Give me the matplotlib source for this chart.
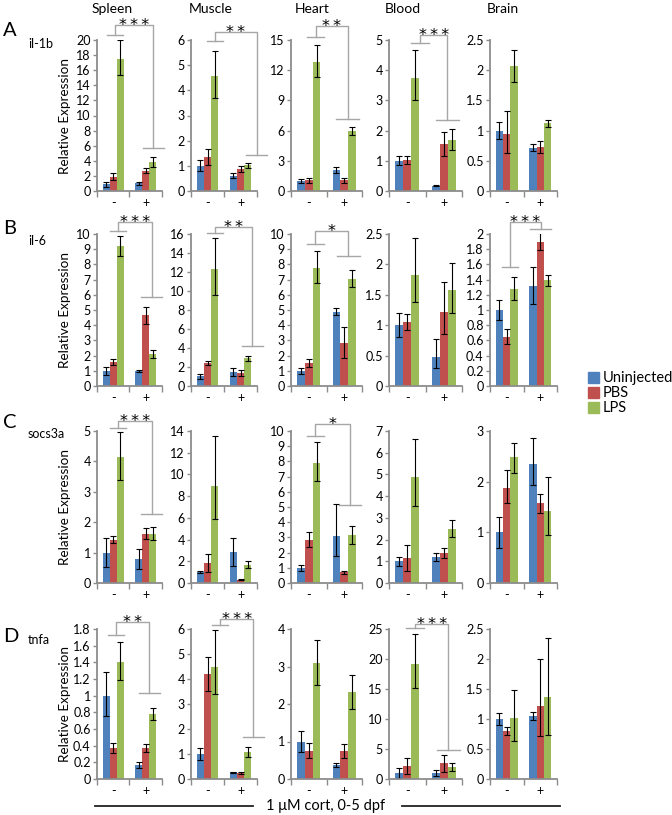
import numpy as np
import matplotlib
matplotlib.use('Agg')
import matplotlib.pyplot as plt
from matplotlib.patches import Rectangle
from matplotlib.lines import Line2D

plt.rcParams['font.family'] = ['Lato', 'DejaVu Sans']

tissues = ['Spleen', 'Muscle', 'Heart', 'Blood', 'Brain']
genes = ['il-1b', 'il-6', 'socs3a', 'tnfa']
letters = ['A', 'B', 'C', 'D']
treatments = ['Uninjected', 'PBS', 'LPS']
cort = ['-', '+']

# each row: [Uninj -, PBS -, LPS -, Uninj +, PBS +, LPS +] for one tissue
il1b_mean = [[0.9, 1.9, 17.5, 1.0, 2.7, 3.8],
             [1.0, 1.35, 4.55, 0.6, 0.88, 1.03],
             [1.0, 1.05, 12.8, 2.07, 1.05, 6.0],
             [1.0, 1.03, 3.75, 0.18, 1.55, 1.7],
             [1.0, 0.95, 2.07, 0.72, 0.73, 1.12]]
il1b_up = [[0.35, 0.45, 2.45, 0.2, 0.3, 0.75],
           [0.22, 0.32, 1.0, 0.1, 0.12, 0.1],
           [0.2, 0.25, 1.7, 0.3, 0.25, 0.4],
           [0.15, 0.12, 0.92, 0.03, 0.4, 0.35],
           [0.14, 0.37, 0.27, 0.05, 0.1, 0.06]]
il1b_dn = [[0.35, 0.4, 2.15, 0.2, 0.3, 0.6],
           [0.22, 0.3, 0.85, 0.1, 0.12, 0.1],
           [0.2, 0.25, 1.5, 0.3, 0.25, 0.4],
           [0.15, 0.12, 0.75, 0.03, 0.4, 0.35],
           [0.14, 0.32, 0.27, 0.05, 0.1, 0.06]]

il6_mean = [[1.0, 1.55, 9.2, 1.0, 4.65, 2.1],
            [1.0, 2.4, 12.3, 1.5, 1.4, 2.9],
            [1.0, 1.5, 7.75, 4.9, 2.85, 7.05],
            [1.0, 1.05, 1.83, 0.48, 1.22, 1.58],
            [1.0, 0.65, 1.28, 1.32, 1.9, 1.39]]
il6_up = [[0.25, 0.2, 0.65, 0.05, 0.55, 0.25],
          [0.3, 0.2, 3.3, 0.4, 0.3, 0.25],
          [0.2, 0.25, 1.1, 0.25, 1.0, 0.55],
          [0.2, 0.13, 0.6, 0.29, 0.49, 0.45],
          [0.13, 0.1, 0.15, 0.24, 0.11, 0.07]]
il6_dn = [[0.25, 0.2, 0.65, 0.05, 0.55, 0.25],
          [0.3, 0.2, 2.7, 0.4, 0.3, 0.25],
          [0.2, 0.25, 1.0, 0.25, 1.0, 0.55],
          [0.2, 0.13, 0.45, 0.18, 0.37, 0.38],
          [0.13, 0.1, 0.15, 0.24, 0.11, 0.07]]

socs3a_mean = [[1.0, 1.43, 4.13, 0.8, 1.62, 1.62],
               [1.0, 1.8, 8.9, 2.85, 0.3, 1.7],
               [1.0, 2.85, 7.9, 3.1, 0.7, 3.15],
               [1.0, 1.15, 4.9, 1.2, 1.38, 2.5],
               [1.0, 1.88, 2.48, 2.35, 1.57, 1.42]]
socs3a_up = [[0.48, 0.1, 0.85, 0.33, 0.18, 0.22],
             [0.1, 0.9, 4.6, 1.25, 0.05, 0.3],
             [0.2, 0.5, 1.35, 2.1, 0.1, 0.6],
             [0.2, 0.6, 1.75, 0.18, 0.22, 0.38],
             [0.3, 0.35, 0.28, 0.52, 0.18, 0.68]]
socs3a_dn = [[0.48, 0.1, 0.75, 0.33, 0.18, 0.22],
             [0.1, 0.8, 3.0, 1.3, 0.05, 0.3],
             [0.2, 0.5, 1.2, 1.3, 0.1, 0.6],
             [0.2, 0.6, 1.35, 0.18, 0.22, 0.38],
             [0.3, 0.3, 0.3, 0.42, 0.18, 0.48]]

tnfa_mean = [[1.0, 0.37, 1.41, 0.17, 0.37, 0.78],
             [1.0, 4.2, 4.5, 0.27, 0.25, 1.08],
             [1.0, 0.75, 3.1, 0.37, 0.75, 2.33],
             [1.0, 2.2, 19.2, 1.0, 2.6, 2.0],
             [1.0, 0.8, 1.01, 1.05, 1.22, 1.36]]
tnfa_up = [[0.29, 0.06, 0.24, 0.04, 0.05, 0.07],
           [0.25, 0.67, 1.45, 0.03, 0.03, 0.2],
           [0.27, 0.2, 0.62, 0.06, 0.18, 0.45],
           [0.9, 1.3, 5.0, 0.55, 1.4, 0.6],
           [0.1, 0.07, 0.47, 0.06, 0.78, 0.99]]
tnfa_dn = [[0.24, 0.06, 0.22, 0.04, 0.05, 0.07],
           [0.25, 0.67, 1.1, 0.03, 0.03, 0.2],
           [0.27, 0.2, 0.58, 0.06, 0.18, 0.45],
           [0.9, 1.3, 4.0, 0.55, 1.4, 0.6],
           [0.1, 0.07, 0.37, 0.06, 0.51, 0.63]]

il1b_ymax = [20, 6, 15, 5, 2.5]
il1b_step = [2, 1, 3, 1, 0.5]
il6_ymax = [10, 16, 10, 2.5, 2]
il6_step = [1, 2, 1, 0.5, 0.2]
socs3a_ymax = [5, 14, 10, 7, 3]
socs3a_step = [1, 2, 1, 1, 1]
tnfa_ymax = [1.8, 6, 4, 25, 2.5]
tnfa_step = [0.2, 1, 1, 5, 0.5]

# significance brackets: tissue -> (x left, x right, y left cap, y top, y right cap, stars)
il1b_sig = {0: (0.05, 1.23, 20.7, 22.0, 5.7, '***'), 1: (0.23, 1.49, 5.95, 6.3, 1.45, '**'),
            2: (0.2, 1.1, 15.3, 16.4, 7.2, '**'), 3: (0.35, 1.1, 4.9, 5.17, 2.35, '***')}
il6_sig = {0: (0.155, 1.18, 10.2, 10.8, 5.87, '***'), 1: (0.23, 1.36, 16.1, 16.7, 4.2, '**'),
           2: (0.18, 1.11, 9.35, 10.2, 8.55, '*'), 4: (0.1, 1.01, 1.56, 2.16, 2.07, '***')}
socs3a_sig = {0: (0.155, 1.18, 5.1, 5.33, 2.27, '***'), 2: (0.18, 1.16, 9.7, 10.45, 5.1, '*')}
tnfa_sig = {0: (0.085, 1.11, 1.73, 1.88, 1.03, '**'), 1: (0.38, 1.39, 6.15, 6.4, 1.68, '***'),
            3: (0.21, 1.13, 25.2, 25.8, 4.9, '***')}

rows = [(il1b_mean, il1b_up, il1b_dn, il1b_ymax, il1b_step, il1b_sig),
        (il6_mean, il6_up, il6_dn, il6_ymax, il6_step, il6_sig),
        (socs3a_mean, socs3a_up, socs3a_dn, socs3a_ymax, socs3a_step, socs3a_sig),
        (tnfa_mean, tnfa_up, tnfa_dn, tnfa_ymax, tnfa_step, tnfa_sig)]

colors = ['#4F81BD', '#C0504D', '#9BBB59']
grey = '#8C8C8C'
W, H = 672, 815

# layout in pixels
col_x0 = [97, 191, 291, 389, 490]
col_w = [65, 66, 71, 73, 67]
row_top = [40, 234, 431, 629]
row_bot = [191, 386, 583, 779]
title_x = [112, 211, 312, 403, 503]
letter_y = [31, 228, 423, 636]
gene_y = [44, 241, 434, 640]

fig = plt.figure(figsize=(W / 100, H / 100), dpi=100)

bw = 0.22
for r in range(4):
    means, up, dn, ymaxs, steps, sig = rows[r]
    for c in range(5):
        ax = fig.add_axes([col_x0[c] / W, 1 - row_bot[r] / H, col_w[c] / W, (row_bot[r] - row_top[r]) / H])
        for k in range(3):
            xs = np.array([0, 1]) + (k - 1) * bw
            vals = [means[c][k], means[c][k + 3]]
            err = [[dn[c][k], dn[c][k + 3]], [up[c][k], up[c][k + 3]]]
            ax.bar(xs, vals, bw, color=colors[k], yerr=err, zorder=2,
                   error_kw=dict(ecolor='black', elinewidth=0.8, capsize=2, capthick=0.8))
        ax.set_xlim(-0.5, 1.5)
        ax.set_ylim(0, ymaxs[c])
        yt = np.round(np.arange(0, ymaxs[c] + steps[c] / 2, steps[c]), 3)
        ax.set_yticks(yt)
        ax.set_yticklabels(['{:g}'.format(v) for v in yt], fontsize=9)
        ax.set_xticks([0, 1])
        ax.set_xticklabels(cort, fontsize=9)
        ax.set_xticks([-0.5, 0.5, 1.5], minor=True)
        ax.tick_params(axis='x', which='major', length=0, pad=4)
        ax.tick_params(axis='x', which='minor', length=4, color=grey, width=1)
        ax.tick_params(axis='y', length=3, color=grey, width=1, pad=1.5)
        for s in ['top', 'right']:
            ax.spines[s].set_visible(False)
        for s in ['left', 'bottom']:
            ax.spines[s].set_color(grey)
            ax.spines[s].set_linewidth(1.3)
        ax.patch.set_visible(False)

        if c in sig:
            xl, xr, yl, yt_, yr, stars = sig[c]
            bc = '#A6A6A6'
            ax.plot([xl - 0.24, xl + 0.24], [yl, yl], color=bc, lw=1, clip_on=False)
            ax.plot([xl, xl, xr, xr], [yl, yt_, yt_, yr], color=bc, lw=1, clip_on=False)
            ax.plot([xr - 0.32, xr + 0.32], [yr, yr], color=bc, lw=1, clip_on=False)
            ax.annotate('\u2009'.join(stars), xy=((xl + xr) / 2, yt_), xytext=(0, -3.5),
                        textcoords='offset points', ha='center', va='baseline',
                        fontsize=11.5, family='DejaVu Sans', annotation_clip=False)

        if r == 0:
            fig.text(title_x[c] / W, 1 - 9 / H, tissues[c], ha='center', va='center', fontsize=10)

    fig.text(3 / W, 1 - letter_y[r] / H, letters[r], ha='left', va='center', fontsize=14.5)
    fig.text(28 / W, 1 - gene_y[r] / H, genes[r], ha='left', va='center', fontsize=9)
    fig.text(65 / W, 1 - (row_top[r] + row_bot[r]) / 2 / H, 'Relative Expression',
             rotation=90, ha='center', va='center', fontsize=9.7)

# legend
for k in range(3):
    y = 372.5 + 14.8 * k
    fig.add_artist(Rectangle((588 / W, 1 - (y + 11) / H), 11 / W, 11 / H, color=colors[k],
                             transform=fig.transFigure))
    fig.text(603 / W, 1 - (y + 5.5) / H, treatments[k], ha='left', va='center', fontsize=10.5)

# treatment bar at the bottom
fig.add_artist(Line2D([95 / W, 253 / W], [1 - 806 / H] * 2, color='#222222', lw=1.3))
fig.add_artist(Line2D([402 / W, 560 / W], [1 - 806 / H] * 2, color='#222222', lw=1.3))
fig.text(326 / W, 1 - 806 / H, '1 \u03bcM cort, 0-5 dpf', ha='center', va='center', fontsize=10.5)

fig.savefig('out.png', dpi=100)
